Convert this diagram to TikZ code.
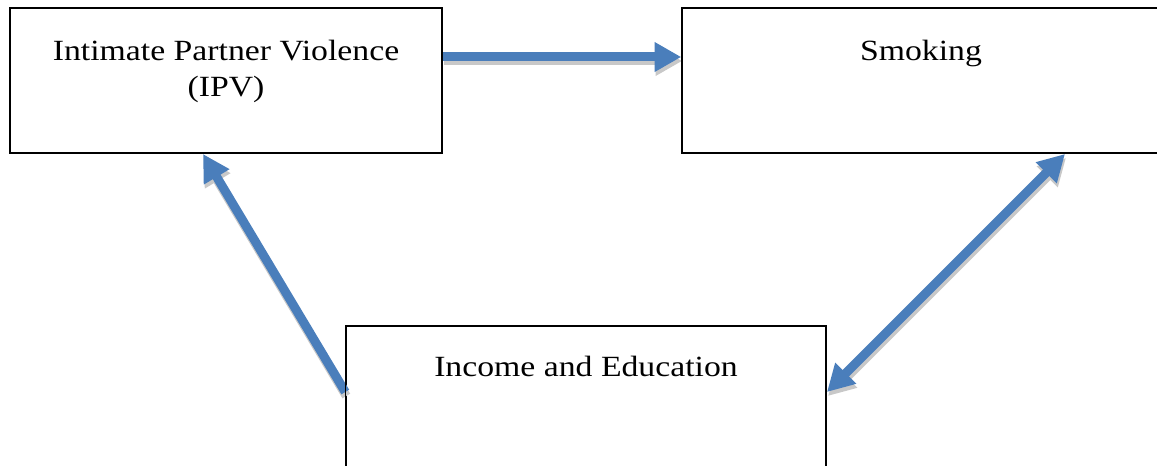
\documentclass[tikz,border=0pt]{standalone}
\usepackage{fontspec}
\setmainfont[FakeStretch=1.15]{Liberation Serif}
\usetikzlibrary{arrows.meta,fit}
\definecolor{arrowblue}{HTML}{4A7EBB}
\definecolor{shadowgray}{HTML}{C8C8C8}
\begin{document}
\begin{tikzpicture}[x=0.75pt,y=-0.75pt,
  box/.style={draw=black,line width=1.1pt,inner sep=0pt},
  lbl/.style={font=\fontsize{22}{27}\selectfont,inner sep=0pt,align=center},
  conn/.style={line width=6.75pt,draw=arrowblue,-{Triangle[length=20pt,width=21pt]}},
  conn2/.style={line width=6.75pt,draw=arrowblue,{Triangle[length=20pt,width=21pt]}-{Triangle[length=20pt,width=21pt]}},
  shad/.style={draw=shadowgray,transform canvas={shift={(0.75pt,-3pt)}}}
]
\useasboundingbox (0,0) rectangle (1157,466);
\clip (0,0) rectangle (1157,466);
% boxes
\node[box,fit={(10,8) (442,153)}] (ipv) {};
\node[box,fit={(682,8) (1175,153)}] (smk) {};
\node[box,fit={(346,326) (826,490)}] (inc) {};
% connector end points on the box borders
\coordinate (a1s) at (ipv.east |- 0,57);
\coordinate (a1e) at (smk.west |- 0,57);
\coordinate (a2s) at (inc.west |- 0,392);
\coordinate (a2e) at (203,154);
\coordinate (a3s) at (827,392);
\coordinate (a3e) at (1065,154);
% shadows
\draw[conn,shad] (a1s) -- (a1e);
\draw[conn,shad] (a2s) -- (a2e);
\draw[conn2,shad] (a3s) -- (a3e);
% arrows
\draw[conn] (a1s) -- (a1e);
\draw[conn] (a2s) -- (a2e);
\draw[conn2] (a3s) -- (a3e);
% redraw box borders on top
\draw[line width=1.1pt] (ipv.south west) rectangle (ipv.north east);
\draw[line width=1.1pt] (smk.south west) rectangle (smk.north east);
\draw[line width=1.1pt] (inc.south west) rectangle (inc.north east);
% labels
\node[lbl,anchor=north] (ipvt) at (226,40) {Intimate Partner Violence\\(IPV)};
\node[lbl,anchor=base] (smkt) at (921,61) {Smoking};
\node[lbl,anchor=base] (inct) at (586,377) {Income and Education};
\end{tikzpicture}
\end{document}
